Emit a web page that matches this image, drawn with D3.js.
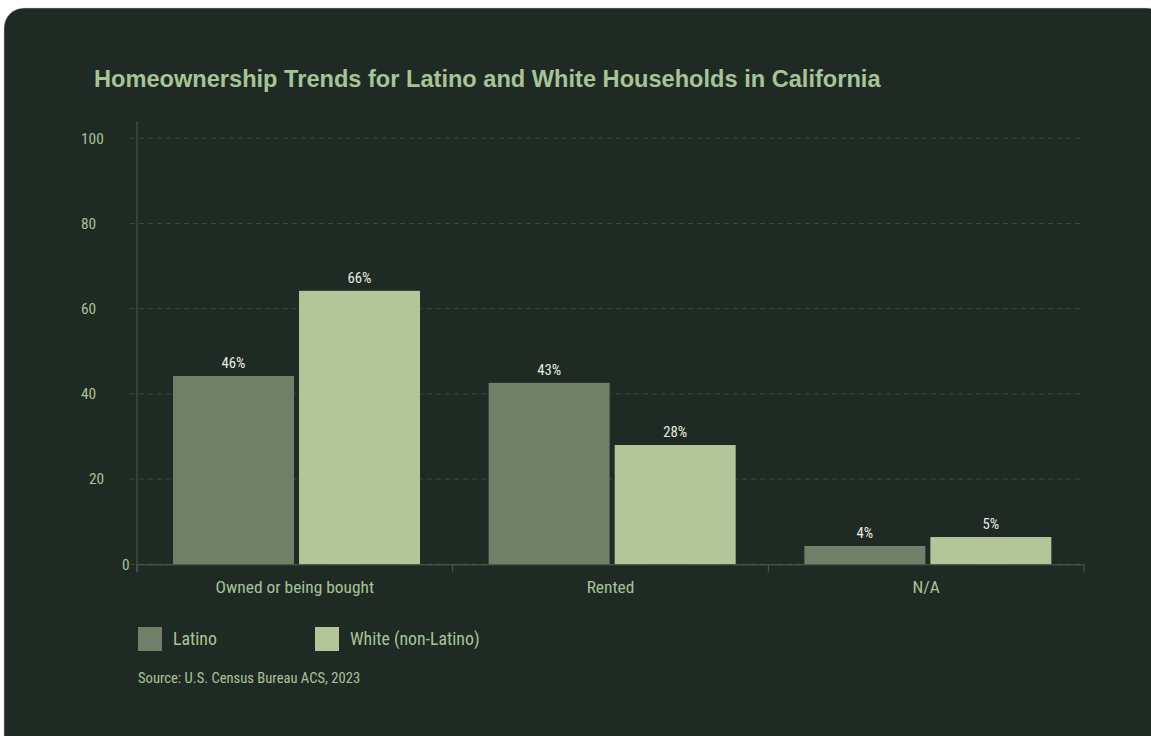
<!DOCTYPE html>
<html>
<head>
<meta charset="utf-8">
<script src="https://cdn.jsdelivr.net/npm/d3@7"></script>
<style>
  html, body { margin: 0; padding: 0; background: #ffffff; }
  svg { display: block; }
</style>
</head>
<body>
<div id="chart"></div>
<script>
// data
const categories = ['Owned or being bought', 'Rented', 'N/A'];
const seriesNames = ['Latino', 'White (non-Latino)'];
const latinoValues = [44.2, 42.6, 4.3];
const whiteValues = [64.2, 28.0, 6.4];
const latinoLabels = ['46%', '43%', '4%'];
const whiteLabels = ['66%', '28%', '5%'];
const yTicks = [0, 20, 40, 60, 80, 100];

const width = 1151;
const height = 736;
const margin = {top: 138.3, bottom: 171.7, left: 137, right: 67};

const colors = ['#6f7f68', '#b4c59a'];
const bg = '#1f2a24';
const textGreen = '#a7c497';
const axisCol = '#4d5c50';
const gridCol = '#3a4840';
const font = 'Roboto Condensed, Roboto, sans-serif';

const rows = categories.map((c, i) => ({
  cat: c,
  vals: [
    {s: seriesNames[0], v: latinoValues[i], label: latinoLabels[i]},
    {s: seriesNames[1], v: whiteValues[i], label: whiteLabels[i]}
  ]
}));

const svg = d3.select('#chart')
  .append('svg')
  .attr('width', width)
  .attr('height', height)
  .attr('viewBox', [0, 0, width, height]);

// card
svg.append('rect')
  .attr('x', 4).attr('y', 8)
  .attr('width', 1163).attr('height', 770)
  .attr('rx', 20)
  .attr('fill', bg)
  .attr('stroke', '#c8ccc9')
  .attr('stroke-width', 0.5);

svg.append('text')
  .attr('x', 94).attr('y', 87)
  .attr('fill', textGreen)
  .attr('font-family', 'Liberation Sans, Arial, sans-serif')
  .attr('font-weight', 'bold')
  .attr('font-size', '23.6px')
  .text('Homeownership Trends for Latino and White Households in California');

const x0 = d3.scaleBand()
  .domain(categories)
  .range([margin.left, width - margin.right])
  .padding(0);

const x1 = d3.scaleBand()
  .domain(seriesNames)
  .range([36, 283])
  .paddingInner(0.04);

const y = d3.scaleLinear()
  .domain([0, 100])
  .range([height - margin.bottom, margin.top]);

const color = d3.scaleOrdinal().domain(seriesNames).range(colors);

// gridlines
svg.append('g')
  .selectAll('line')
  .data(yTicks)
  .join('line')
    .attr('x1', margin.left - 7)
    .attr('x2', width - margin.right - 1)
    .attr('y1', d => y(d))
    .attr('y2', d => y(d))
    .attr('stroke', gridCol)
    .attr('stroke-dasharray', '5,4');

// y axis line
svg.append('line')
  .attr('x1', margin.left).attr('x2', margin.left)
  .attr('y1', y(104)).attr('y2', y(0) + 8)
  .attr('stroke', axisCol);

// y tick labels (offsets follow the reference's odd placement)
const yLabelX = {0: 122, 20: 89};
svg.append('g')
  .selectAll('text')
  .data(yTicks)
  .join('text')
    .attr('x', d => yLabelX[d] !== undefined ? yLabelX[d] : 81)
    .attr('y', d => y(d))
    .attr('dy', '0.35em')
    .attr('fill', textGreen)
    .attr('font-family', font)
    .attr('font-size', '15.4px')
    .text(d => d);

// bars
const groups = svg.append('g')
  .selectAll('g')
  .data(rows)
  .join('g')
    .attr('transform', d => `translate(${x0(d.cat)},0)`);

groups.selectAll('rect')
  .data(d => d.vals)
  .join('rect')
    .attr('x', d => x1(d.s))
    .attr('y', d => y(d.v))
    .attr('width', x1.bandwidth())
    .attr('height', d => y(0) - y(d.v))
    .attr('fill', d => color(d.s));

groups.selectAll('text')
  .data(d => d.vals)
  .join('text')
    .attr('x', d => x1(d.s) + x1.bandwidth() / 2)
    .attr('y', d => y(d.v) - 8)
    .attr('text-anchor', 'middle')
    .attr('fill', '#e8ece5')
    .attr('font-family', font)
    .attr('font-size', '14.8px')
    .text(d => d.label);

// x axis
function xAxis(g) {
  g.attr('transform', `translate(0, ${y(0)})`)
    .call(d3.axisBottom(x0).tickSize(0).tickPadding(16));
  g.select('.domain').attr('stroke', axisCol);
  g.selectAll('text')
    .attr('fill', textGreen)
    .attr('font-family', font)
    .attr('font-size', '17.4px');
}
svg.append('g').call(xAxis);

// band boundary ticks
const bounds = categories.map(c => x0(c)).concat([x0(categories[2]) + x0.bandwidth()]);
svg.append('g')
  .selectAll('line')
  .data(bounds)
  .join('line')
    .attr('x1', d => d).attr('x2', d => d)
    .attr('y1', y(0)).attr('y2', y(0) + 8)
    .attr('stroke', axisCol);

// legend
const legend = svg.append('g')
  .selectAll('g')
  .data(seriesNames)
  .join('g')
    .attr('transform', (d, i) => `translate(${138 + i * 177},627)`);

legend.append('rect')
  .attr('width', 24).attr('height', 24)
  .attr('fill', d => color(d));

legend.append('text')
  .attr('x', 35).attr('y', 12)
  .attr('dy', '0.35em')
  .attr('fill', textGreen)
  .attr('font-family', font)
  .attr('font-size', '17.8px')
  .text(d => d);

svg.append('text')
  .attr('x', 138).attr('y', 678)
  .attr('dy', '0.35em')
  .attr('fill', textGreen)
  .attr('font-family', font)
  .attr('font-size', '14.6px')
  .text('Source: U.S. Census Bureau ACS, 2023');
</script>
</body>
</html>
